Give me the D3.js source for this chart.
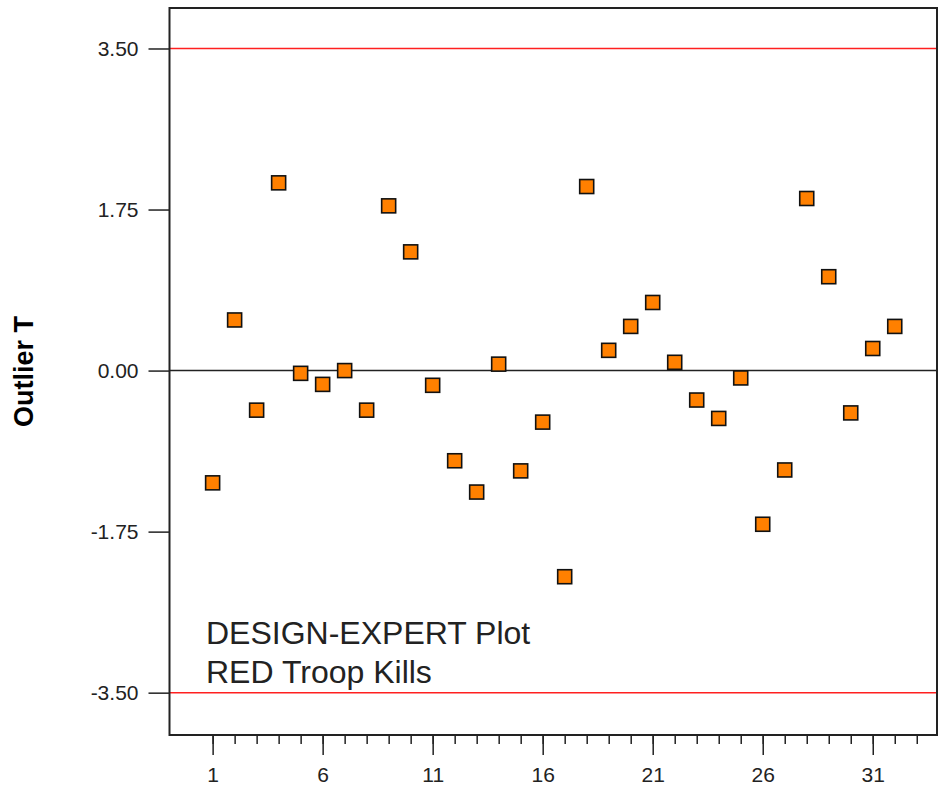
<!DOCTYPE html>
<html>
<head>
<meta charset="utf-8">
<script src="https://cdn.jsdelivr.net/npm/d3@7"></script>
<style>
  body { margin: 0; background: #fff; }
  svg { display: block; font-family: Arial, "Liberation Sans", sans-serif; }
</style>
</head>
<body>
<div id="main"></div>
<script>
const ctx = {
    w: 939,
    h: 791,
};

// run order of each point, and its outlier T value
const runs = d3.range(1, 33);
const outlierT = [
    -1.22, 0.55, -0.43, 2.04, -0.03, -0.15, 0.00, -0.43,
    1.79, 1.29, -0.16, -0.98, -1.32, 0.07, -1.09, -0.56,
    -2.24, 2.00, 0.22, 0.48, 0.74, 0.09, -0.32, -0.52,
    -0.08, -1.67, -1.08, 1.87, 1.02, -0.46, 0.24, 0.48
];

const yTicks = [3.50, 1.75, 0.00, -1.75, -3.50];
const xMajorTicks = [1, 6, 11, 16, 21, 26, 31];
const xMinorTicks = d3.range(1, 34);
const limits = [3.50, -3.50];
const noteLines = ["DESIGN-EXPERT Plot", "RED Troop Kills"];

function createViz() {
    const frame = {left: 169.5, top: 8, right: 937, bottom: 735};

    const svgEl = d3.select("#main").append("svg")
        .attr("width", ctx.w)
        .attr("height", ctx.h);

    const x = d3.scaleLinear()
        .domain([-0.96, 33.92])
        .range([frame.left, frame.right]);

    const y = d3.scaleLinear()
        .domain([-3.96, 3.94])
        .range([frame.bottom, frame.top]);

    // plain hyphen for negatives, like the original
    const fmtY = d => d.toFixed(2);

    // y axis, ticks outside the frame
    const yAxis = svgEl.append("g")
        .attr("transform", `translate(${frame.left},0)`)
        .call(d3.axisLeft(y).tickValues(yTicks).tickFormat(fmtY)
            .tickSize(21).tickPadding(10));
    yAxis.select(".domain").remove();
    yAxis.selectAll("line").attr("stroke", "#222").attr("stroke-width", 1.5);
    yAxis.selectAll("text").style("font-size", "21px").attr("fill", "#222");

    // x axis, minor ticks first then the labelled ones
    const xMinor = svgEl.append("g")
        .attr("transform", `translate(0,${frame.bottom})`)
        .call(d3.axisBottom(x).tickValues(xMinorTicks).tickFormat("").tickSize(9));
    xMinor.select(".domain").remove();
    xMinor.selectAll("line").attr("stroke", "#222").attr("stroke-width", 1.5);

    const xAxis = svgEl.append("g")
        .attr("transform", `translate(0,${frame.bottom})`)
        .call(d3.axisBottom(x).tickValues(xMajorTicks).tickFormat(d3.format("d"))
            .tickSize(20).tickPadding(12));
    xAxis.select(".domain").remove();
    xAxis.selectAll("line").attr("stroke", "#222").attr("stroke-width", 1.5);
    xAxis.selectAll("text").style("font-size", "21px").attr("fill", "#222");

    // zero line and the limit lines
    svgEl.append("line")
        .attr("x1", frame.left).attr("x2", frame.right)
        .attr("y1", y(0)).attr("y2", y(0))
        .attr("stroke", "#222").attr("stroke-width", 1.5);

    svgEl.selectAll(".limit")
        .data(limits)
        .enter().append("line")
        .attr("class", "limit")
        .attr("x1", frame.left).attr("x2", frame.right)
        .attr("y1", d => y(d)).attr("y2", d => y(d))
        .attr("stroke", "#ff2020").attr("stroke-width", 1.5);

    // frame
    svgEl.append("rect")
        .attr("x", frame.left).attr("y", frame.top)
        .attr("width", frame.right - frame.left)
        .attr("height", frame.bottom - frame.top)
        .attr("fill", "none")
        .attr("stroke", "#222").attr("stroke-width", 2);

    // points
    const s = 14;
    svgEl.selectAll(".pt")
        .data(runs)
        .enter().append("rect")
        .attr("class", "pt")
        .attr("x", d => x(d) - s / 2)
        .attr("y", (d, i) => y(outlierT[i]) - s / 2)
        .attr("width", s)
        .attr("height", s)
        .attr("fill", "#ff8000")
        .attr("stroke", "#111")
        .attr("stroke-width", 1.6);

    // note text
    svgEl.selectAll(".note")
        .data(noteLines)
        .enter().append("text")
        .attr("class", "note")
        .attr("x", 206)
        .attr("y", (d, i) => 644 + i * 39)
        .style("font-size", "32px")
        .attr("fill", "#222")
        .text(d => d);

    // y title
    svgEl.append("text")
        .attr("transform", `translate(33,${(frame.top + frame.bottom) / 2}) rotate(-90)`)
        .attr("text-anchor", "middle")
        .style("font-size", "27px")
        .style("font-weight", "bold")
        .attr("fill", "#000")
        .text("Outlier T");
}

createViz();
</script>
</body>
</html>
